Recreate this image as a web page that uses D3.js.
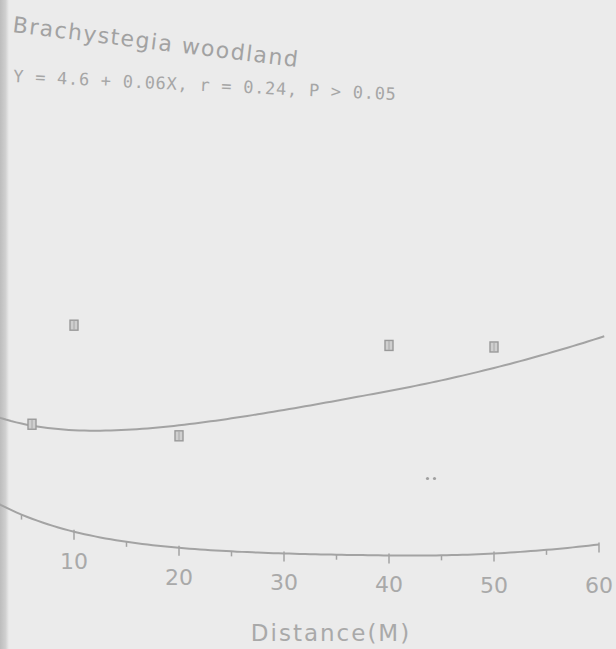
<!DOCTYPE html>
<html>
<head>
<meta charset="utf-8">
<script src="https://cdn.jsdelivr.net/npm/d3@7"></script>
<style>
  html, body { margin: 0; padding: 0; background: #ebebeb; }
  svg { display: block; }
</style>
</head>
<body>
<div id="chart"></div>
<script>
// values
const title = "Brachystegia woodland";
const equation = "Y = 4.6 + 0.06X, r = 0.24, P > 0.05";
const xLabel = "Distance(M)";

const distance = [6, 10, 20, 40, 50];
const density = [5.0, 8.2, 5.5, 8.3, 8.2];
const strayX = [44];
const strayY = [4.5];

const fitIntercept = 4.6;
const fitSlope = 0.06;

const majorTicks = [10, 20, 30, 40, 50, 60];
const minorTicks = [5, 15, 25, 35, 45, 55];

var width = 616, height = 649;
var ink = "#a3a3a3";

var svg = d3.select("#chart").append("svg")
    .attr("width", width)
    .attr("height", height);

svg.append("rect")
    .attr("width", width).attr("height", height)
    .attr("fill", "#ebebeb");

// page edge of the scan
var edge = svg.append("defs").append("linearGradient").attr("id", "edge");
edge.append("stop").attr("offset", "0%").attr("stop-color", "#bdbdbd");
edge.append("stop").attr("offset", "60%").attr("stop-color", "#cfcfcf");
edge.append("stop").attr("offset", "100%").attr("stop-color", "#ebebeb");
svg.append("rect").attr("width", 9).attr("height", height).attr("fill", "url(#edge)");

var x = d3.scaleLinear().domain([0, 60]).range([-31, 599]);
var y = d3.scaleLinear().domain([2.3, 18]).range([556.5, 556.5 - 15.7 * 35]);

// the printed page is bent in the scan, so every mark is shifted by this
function bend(px) {
  var b = -52 * Math.exp(-px / 100);
  if (px > 400) b -= 12 * Math.pow((px - 400) / 200, 2);
  return b;
}
function pos(X, Y) { var px = x(X); return [px, y(Y) + bend(px)]; }

var line = d3.line().curve(d3.curveLinear);

// x axis (bent baseline)
var axisPts = d3.range(0, 60.01, 0.5).map(function(d) { return pos(d, 2.3); });
svg.append("path")
    .attr("d", line(axisPts))
    .attr("fill", "none")
    .attr("stroke", ink)
    .attr("stroke-width", 2);

svg.append("g").selectAll("line.major")
    .data(majorTicks).enter().append("line")
    .attr("x1", function(d) { return pos(d, 2.3)[0]; })
    .attr("x2", function(d) { return pos(d, 2.3)[0]; })
    .attr("y1", function(d) { return pos(d, 2.3)[1] - 2; })
    .attr("y2", function(d) { return pos(d, 2.3)[1] + 8; })
    .attr("stroke", ink).attr("stroke-width", 1.5);

svg.append("g").selectAll("line.minor")
    .data(minorTicks).enter().append("line")
    .attr("x1", function(d) { return pos(d, 2.3)[0]; })
    .attr("x2", function(d) { return pos(d, 2.3)[0]; })
    .attr("y1", function(d) { return pos(d, 2.3)[1]; })
    .attr("y2", function(d) { return pos(d, 2.3)[1] + 5; })
    .attr("stroke", ink).attr("stroke-width", 1.5);

svg.append("g").selectAll("text")
    .data(majorTicks).enter().append("text")
    .attr("x", function(d) { return x(d); })
    .attr("y", function(d) {
      var px = x(d);
      var b = -52 * Math.exp(-px / 100);
      return 556.5 + 37 + b;
    })
    .attr("text-anchor", "middle")
    .attr("font-family", "DejaVu Sans")
    .attr("font-size", 22)
    .attr("fill", "#a9a9a9")
    .text(function(d) { return d; });

svg.append("text")
    .attr("x", 331).attr("y", 641)
    .attr("text-anchor", "middle")
    .attr("font-family", "DejaVu Sans")
    .attr("font-size", 23)
    .attr("letter-spacing", 2)
    .attr("fill", "#a9a9a9")
    .text(xLabel);

// regression line
var fitPts = d3.range(0, 60.71, 0.5).map(function(d) { return pos(d, fitIntercept + fitSlope * d); });
svg.append("path")
    .attr("d", line(fitPts))
    .attr("fill", "none")
    .attr("stroke", ink)
    .attr("stroke-width", 2);

// square markers
var pts = distance.map(function(d, i) { return pos(d, density[i]); });
var mk = svg.append("g").selectAll("g")
    .data(pts).enter().append("g")
    .attr("transform", function(p) { return "translate(" + p[0] + "," + p[1] + ")"; });
mk.append("rect")
    .attr("x", -4).attr("y", -5)
    .attr("width", 8).attr("height", 10)
    .attr("fill", "#cfcfcf")
    .attr("stroke", "#999")
    .attr("stroke-width", 1.4);
mk.append("line")
    .attr("x1", 0).attr("x2", 0).attr("y1", -4.5).attr("y2", 4.5)
    .attr("stroke", "#a8a8a8").attr("stroke-width", 1);

// the two small dots below the line
var st = strayX.map(function(d, i) { return pos(d, strayY[i]); });
svg.append("g").selectAll("circle")
    .data([-3.5, 3.5]).enter().append("circle")
    .attr("cx", function(o) { return st[0][0] + o; })
    .attr("cy", st[0][1])
    .attr("r", 1.6)
    .attr("fill", "#a0a0a0");

// heading and regression text, slightly skewed like the scan
svg.append("text")
    .attr("transform", "translate(12,32) rotate(7)")
    .attr("font-family", "DejaVu Sans")
    .attr("font-size", 22)
    .attr("textLength", 287)
    .attr("fill", "#a2a2a2")
    .text(title);

svg.append("text")
    .attr("transform", "translate(13,82) rotate(2.7)")
    .attr("font-family", "DejaVu Sans Mono")
    .attr("font-size", 17)
    .attr("textLength", 383)
    .attr("fill", "#a6a6a6")
    .text(equation);
</script>
</body>
</html>
